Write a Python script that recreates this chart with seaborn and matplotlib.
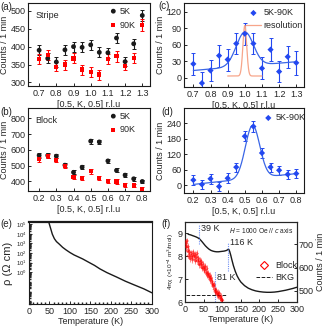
import numpy as np
import pandas as pd
import seaborn as sns
from matplotlib import pyplot as plt
import matplotlib as mpl
from matplotlib.lines import Line2D
from matplotlib.ticker import MultipleLocator, LogLocator, NullFormatter, FixedLocator

sns.set_theme(style="ticks")
plt.rcParams['font.family'] = ['Liberation Sans', 'DejaVu Sans']
plt.rcParams['mathtext.default'] = 'regular'
plt.rcParams['axes.linewidth'] = 0.8
plt.rcParams['xtick.direction'] = 'in'
plt.rcParams['ytick.direction'] = 'in'
plt.rcParams['xtick.major.size'] = 2.5
plt.rcParams['ytick.major.size'] = 2.5
plt.rcParams['xtick.minor.size'] = 1.5
plt.rcParams['ytick.minor.size'] = 1.5
plt.rcParams['xtick.major.pad'] = 2
plt.rcParams['ytick.major.pad'] = 1.5

FS = 6.5
BLUE = "#2348f0"
FIT_BLUE = "#3a66e6"
RES_COLOR = "#f7a58a"
VLINE_BLUE = "#6f8ff2"

# (a) stripe scan
k_stripe = [0.7, 0.75, 0.8, 0.85, 0.9, 0.95, 1.0, 1.05, 1.1, 1.15, 1.2, 1.25, 1.3]
stripe_5k = [390, 367, 357, 391, 400, 398, 405, 384, 383, 424, 358, 408, 487]
stripe_90k = [365, 377, 344, 350, 367, 336, 328, 322, 365, 373, 347, 369, 460]
stripe_err = [14, 14, 13, 14, 14, 14, 14, 14, 14, 15, 13, 14, 16]

# (c) stripe difference
stripe_diff = [25, -10, 13, 40, 33, 62, 80, 62, 17, 51, 11, 38, 27]
stripe_diff_err = [20, 20, 19, 20, 20, 19, 20, 19, 20, 21, 19, 20, 22]
# gaussian + linear background fit parameters
c_amp, c_cen, c_sig, c_bg0, c_bg1 = 62.0, 1.0, 0.05, 13.0, 29.0
res_amp, res_sig, res_bg, res_lo, res_hi = 92.0, 0.011, 3.0, 0.9, 1.1

# (b) block scan
k_block = [0.2, 0.25, 0.3, 0.35, 0.4, 0.45, 0.5, 0.55, 0.6, 0.65, 0.7, 0.75, 0.8]
block_5k = [565, 565, 560, 503, 458, 490, 655, 650, 530, 470, 440, 417, 400]
block_90k = [540, 560, 535, 500, 430, 420, 465, 422, 403, 400, 380, 375, 352]
block_err = [14, 14, 14, 13, 13, 13, 15, 15, 14, 13, 13, 12, 12]

# (d) block difference
block_diff = [20, 3, 25, -5, 27, 70, 190, 228, 125, 70, 58, 42, 45]
block_diff_err = [19, 19, 19, 19, 19, 18, 20, 20, 19, 18, 18, 17, 17]
d_amp, d_cen, d_sig, d_bg0, d_bg1 = 205.0, 0.545, 0.042, 3.0, 45.0

# (e) resistivity
T_rho = [48, 52, 57, 62, 67, 74, 82, 90, 100, 110, 120, 131, 145, 160, 173, 190, 214, 235, 255, 280, 300]
log_rho = [5.28, 4.7, 3.97, 3.5, 3.2, 2.93, 2.6, 2.34, 2.05, 1.8, 1.6, 1.38, 1.05, 0.7, 0.34, -0.05, -0.52, -0.95, -1.31, -1.75, -2.17]

# (f) susceptibility and block intensity
T_chi = [8, 10, 15, 20, 25, 30, 35, 40, 45, 50, 55, 60, 65, 70, 75, 80, 85, 90, 95, 100, 105, 110,
         114, 116, 118, 120, 123, 126, 130, 135, 140, 145, 150, 160, 170, 180, 190, 200, 210, 220,
         230, 240, 250, 260, 270, 280, 290, 300]
chi = [8.98, 8.96, 8.94, 8.91, 8.88, 8.85, 8.81, 8.75, 8.66, 8.56, 8.46, 8.38, 8.31, 8.26, 8.23,
       8.21, 8.20, 8.20, 8.21, 8.22, 8.23, 8.25, 8.28, 8.31, 8.30, 8.22, 8.05, 7.85, 7.6, 7.35,
       7.15, 7.0, 6.88, 6.72, 6.61, 6.54, 6.49, 6.46, 6.44, 6.43, 6.43, 6.44, 6.46, 6.49, 6.52,
       6.56, 6.60, 6.65]
T_block = [2, 4, 5, 7, 8, 10, 12, 14, 16, 18, 20, 22, 24, 26, 28, 30, 32, 34, 36, 38, 40, 42, 44,
           46, 48, 50, 52, 54, 56, 58, 60, 62, 64, 66, 68, 70, 72, 74, 76, 78, 80, 82, 84, 86, 88,
           90, 92, 94, 96, 98, 100]
block_counts = [705, 690, 715, 672, 690, 650, 668, 640, 660, 650, 635, 665, 648, 655, 630, 645,
                660, 628, 640, 615, 630, 612, 625, 600, 615, 598, 590, 605, 580, 595, 570, 575,
                560, 565, 548, 555, 540, 530, 520, 525, 505, 495, 500, 485, 490, 478, 488, 470,
                475, 462, 458]
bkg_level = 481
bkg_T = [3, 110]
transitions = {"39 K": (39, 8.55, 9.4), "116 K": (116, 7.36, 8.57), "81 K": (81, 5.9, 7.36)}


def style(ax):
    ax.tick_params(labelsize=FS, width=0.7, top=False, right=False)
    for s in ax.spines.values():
        s.set_linewidth(0.8)
        s.set_color("k")


def gauss_line(k, amp, cen, sig, bg0, bg1, k0, k1):
    bg = bg0 + (bg1 - bg0) * (k - k0) / (k1 - k0)
    return bg + amp * np.exp(-0.5 * ((k - cen) / sig) ** 2)


def scan_panel(ax, k, y5, y90, err, label_text, ylim, yticks):
    ax.errorbar(k, y5, yerr=err, fmt="none", ecolor="k", elinewidth=0.8, capsize=1.2, capthick=0.7)
    ax.errorbar(k, y90, yerr=err, fmt="none", ecolor="red", elinewidth=0.8, capsize=1.2, capthick=0.7)
    sns.scatterplot(x=k, y=y5, ax=ax, color="k", marker="o", s=12, edgecolor="none", label="5K", zorder=3)
    sns.scatterplot(x=k, y=y90, ax=ax, color="red", marker="s", s=9, edgecolor="none", label="90K", zorder=3)
    ax.set_ylim(*ylim)
    ax.set_yticks(yticks)
    ax.set_xticks(k[::2])
    ax.set_xlim(k[0] - 0.065, k[-1] + 0.045)
    ax.set_xlabel("[0.5, K, 0.5] r.l.u", fontsize=FS, labelpad=1.5)
    ax.set_ylabel("Counts / 1 min", fontsize=FS, labelpad=1.5)
    ax.text(0.06, 0.9, label_text, transform=ax.transAxes, fontsize=FS, va="top")
    ax.legend(loc="upper left", bbox_to_anchor=(0.64, 1.0), frameon=False, fontsize=FS,
              handletextpad=0.3, handlelength=0.8, borderaxespad=0.0, labelspacing=0.55,
              markerscale=1.0)
    style(ax)


def diff_panel(ax, k, d, derr, ylim, yticks, fit):
    ax.errorbar(k, d, yerr=derr, fmt="none", ecolor=BLUE, elinewidth=0.8, capsize=1.2, capthick=0.7)
    kk = np.linspace(k[0], k[-1], 300)
    sns.lineplot(x=kk, y=gauss_line(kk, *fit, k[0], k[-1]), ax=ax, color=FIT_BLUE, lw=0.9)
    sns.scatterplot(x=k, y=d, ax=ax, color=BLUE, marker="D", s=10, edgecolor="none",
                    label="5K-90K", zorder=3)
    ax.set_ylim(*ylim)
    ax.set_yticks(yticks)
    ax.set_xticks(k[::2])
    ax.set_xlim(k[0] - 0.055, k[-1] + 0.045)
    ax.set_xlabel("[0.5, K, 0.5] r.l.u", fontsize=FS, labelpad=1.5)
    ax.set_ylabel("Counts / 1 min", fontsize=FS, labelpad=1.5)
    style(ax)


fig = plt.figure(figsize=(3.29, 3.27), dpi=100)
ax_a = fig.add_axes([0.085, 0.737, 0.371, 0.254])
ax_c = fig.add_axes([0.559, 0.734, 0.365, 0.257])
ax_b = fig.add_axes([0.085, 0.416, 0.371, 0.254])
ax_d = fig.add_axes([0.559, 0.410, 0.365, 0.260])
ax_e = fig.add_axes([0.088, 0.07, 0.374, 0.252])
ax_f = fig.add_axes([0.562, 0.076, 0.340, 0.245])

scan_panel(ax_a, k_stripe, stripe_5k, stripe_90k, stripe_err, "Stripe", (290, 522), [300, 350, 400, 450, 500])
scan_panel(ax_b, k_block, block_5k, block_90k, block_err, "Block", (340, 865), [400, 500, 600, 700, 800])

diff_panel(ax_c, k_stripe, stripe_diff, stripe_diff_err, (-17, 136), [0, 30, 60, 90, 120],
           (c_amp, c_cen, c_sig, c_bg0, c_bg1))
kr = np.linspace(res_lo, res_hi, 200)
sns.lineplot(x=kr, y=res_bg + res_amp * np.exp(-0.5 * ((kr - c_cen) / res_sig) ** 2), ax=ax_c,
             color=RES_COLOR, lw=0.9, label="resolution")
ax_c.legend(loc="upper left", bbox_to_anchor=(0.47, 1.0), frameon=False, fontsize=FS,
            handletextpad=0.3, handlelength=1.7, borderaxespad=0.2, labelspacing=0.4)

diff_panel(ax_d, k_block, block_diff, block_diff_err, (-30, 300), [0, 60, 120, 180, 240],
           (d_amp, d_cen, d_sig, d_bg0, d_bg1))
ax_d.legend(loc="upper left", bbox_to_anchor=(0.62, 1.0), frameon=False, fontsize=FS,
            handletextpad=0.3, handlelength=1.0, borderaxespad=0.2)

# (e)
sns.lineplot(x=T_rho, y=np.power(10.0, log_rho), ax=ax_e, color="k", lw=1.0)
ax_e.set_yscale("log")
ax_e.set_ylim(10 ** -3.35, 10 ** 5.28)
ax_e.set_xlim(0, 300)
ax_e.yaxis.set_major_locator(FixedLocator([1, 10, 100, 1e3, 1e4, 1e5]))
ax_e.set_yticklabels([r"10$^{%d}$" % i for i in range(6)])
ax_e.yaxis.set_minor_locator(LogLocator(base=10, subs=np.arange(2, 10) * 1.0, numticks=20))
ax_e.yaxis.set_minor_formatter(NullFormatter())
ax_e.set_xticks([0, 50, 100, 150, 200, 250, 300])
ax_e.xaxis.set_minor_locator(MultipleLocator(10))
ax_e.set_xlabel("Temperature (K)", fontsize=FS, labelpad=1)
style(ax_e)
ax_e.tick_params(axis="y", labelsize=4.3)
ax_e.set_ylabel("ρ (Ω cm)", fontsize=8, labelpad=2)
ax_e.spines["top"].set_linewidth(1.6)

# (f)
sns.lineplot(x=T_chi, y=chi, ax=ax_f, color="k", lw=1.0)
for name, (tx, y0, y1) in transitions.items():
    ax_f.vlines(tx, y0, y1, colors=VLINE_BLUE, linestyles=(0, (1, 1)), lw=0.8)
ax_f.text(44, 9.12, "39 K", fontsize=FS)
ax_f.text(120, 8.5, "116 K", fontsize=FS)
ax_f.text(87, 6.95, "81 K", fontsize=FS)
ax_f.text(0.97, 0.95, r"$\it{H}$ = 1000 Oe // $\it{c}$ axis", transform=ax_f.transAxes,
          fontsize=4.8, ha="right", va="top")
ax_f.set_xlim(0, 300)
ax_f.set_ylim(6, 9.5)
ax_f.set_yticks([6, 7, 8, 9])
ax_f.set_xticks([0, 50, 100, 150, 200, 250, 300])
ax_f.set_xlabel("Temperature (K)", fontsize=FS, labelpad=1)
ax_f.set_ylabel(r"4πχ (×10$^{-4}$ m$^{3}$/mol)", fontsize=4.6, labelpad=1)
style(ax_f)

ax_f2 = ax_f.twinx()
ax_f2.errorbar(T_block, block_counts, yerr=15, xerr=1.5, fmt="none", ecolor="red",
               elinewidth=0.7, alpha=0.45)
sns.scatterplot(x=T_block, y=block_counts, ax=ax_f2, color="red", marker="D", s=5,
                edgecolor="none", alpha=0.55, zorder=3)
sns.lineplot(x=bkg_T, y=[bkg_level, bkg_level], ax=ax_f2, color="k", lw=0.7, linestyle="--")
ax_f2.set_ylim(450, 797)
ax_f2.set_yticks([500, 600, 700])
ax_f2.set_ylabel("Counts / 1 min", fontsize=FS, labelpad=1.5)
ax_f2.tick_params(labelsize=FS, width=0.7, direction="in", pad=1.5)
handles = [Line2D([], [], marker="D", mfc="none", mec="red", color="none", ms=4.5, mew=0.8),
           Line2D([], [], color="k", lw=0.7, linestyle="--")]
ax_f2.legend(handles, ["Block", "BKG"], loc="center left", bbox_to_anchor=(0.6, 0.38),
             frameon=False, fontsize=FS, handlelength=1.8, handletextpad=0.4, labelspacing=0.3,
             borderaxespad=0.0)

for txt, x, y in [("(a)", 0.0, 0.995), ("(c)", 0.482, 0.998), ("(b)", 0.0, 0.672),
                  ("(d)", 0.49, 0.672), ("(e)", 0.0, 0.33), ("(f)", 0.49, 0.33)]:
    fig.text(x, y, txt, fontsize=7, va="top", ha="left")

fig.savefig("out.png", dpi=100)
